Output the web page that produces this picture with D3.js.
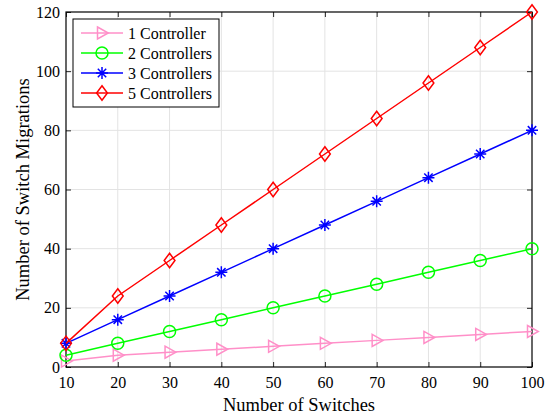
<!DOCTYPE html>
<html><head><meta charset="utf-8">
<script src="https://cdn.jsdelivr.net/npm/d3@7"></script>
<style>body{margin:0;background:#fff}svg{display:block}</style>
</head><body>
<script>
const switches = [10,20,30,40,50,60,70,80,90,100];
const c1 = [2,4,5,6,7,8,9,10,11,12];
const c2 = [4,8,12,16,20,24,28,32,36,40];
const c3 = [8,16,24,32,40,48,56,64,72,80];
const c5 = [8,24,36,48,60,72,84,96,108,120];
const xTicks = [10,20,30,40,50,60,70,80,90,100];
const yTicks = [0,20,40,60,80,100,120];
const seriesNames = ["1 Controller","2 Controllers","3 Controllers","5 Controllers"];
const seriesColors = ["#ff8fc8","#00ff00","#0000ff","#ff0000"];
const seriesMarkers = ["tri","circle","star","diamond"];
const seriesData = [c1,c2,c3,c5];

const FONT='"Liberation Serif","Times New Roman",serif';
const W=557,H=419, L=66, R=532, T=12, B=367;
const svg=d3.select("body").append("svg").attr("width",W).attr("height",H);
const x=d3.scaleLinear().domain([10,100]).range([L,R]);
const y=d3.scaleLinear().domain([0,120]).range([B,T]);

// grid
svg.append("g").selectAll("line").data(xTicks.slice(1,-1)).join("line")
 .attr("x1",d=>x(d)).attr("x2",d=>x(d)).attr("y1",T).attr("y2",B).attr("stroke","#e3e3e3").attr("stroke-width",1);
svg.append("g").selectAll("line").data(yTicks.slice(1,-1)).join("line")
 .attr("y1",d=>y(d)).attr("y2",d=>y(d)).attr("x1",L).attr("x2",R).attr("stroke","#e3e3e3").attr("stroke-width",1);

// axes
const tk=5;
const ax=svg.append("g").attr("transform",`translate(0,${B})`).call(d3.axisBottom(x).tickValues(xTicks).tickSizeInner(-tk).tickSizeOuter(0).tickPadding(10));
const axT=svg.append("g").attr("transform",`translate(0,${T})`).call(d3.axisTop(x).tickValues(xTicks).tickSizeInner(-tk).tickSizeOuter(0).tickFormat(""));
const ay=svg.append("g").attr("transform",`translate(${L},0)`).call(d3.axisLeft(y).tickValues(yTicks).tickSizeInner(-tk).tickSizeOuter(0).tickPadding(6));
const ayR=svg.append("g").attr("transform",`translate(${R},0)`).call(d3.axisRight(y).tickValues(yTicks).tickSizeInner(-tk).tickSizeOuter(0).tickFormat(""));
[ax,axT,ay,ayR].forEach(g=>{g.attr("font-family",FONT).attr("font-size",16);g.select(".domain").remove();g.selectAll("line").attr("stroke","#262626");g.selectAll("text").attr("font-family",FONT).attr("font-size",16).attr("fill","#000");});
svg.append("rect").attr("x",L).attr("y",T).attr("width",R-L).attr("height",B-T).attr("fill","none").attr("stroke","#000").attr("stroke-width",1.2);

function marker(g,type,cx,cy,color){
  const s=6;
  if(type==="tri") g.append("path").attr("d",`M${cx-s*0.75},${cy-s}L${cx+s*1.05},${cy}L${cx-s*0.75},${cy+s}Z`).attr("fill","none").attr("stroke",color).attr("stroke-width",1.5);
  else if(type==="circle") g.append("circle").attr("cx",cx).attr("cy",cy).attr("r",s).attr("fill","none").attr("stroke",color).attr("stroke-width",1.5);
  else if(type==="diamond") g.append("path").attr("d",`M${cx},${cy-s*1.2}L${cx+s*0.9},${cy}L${cx},${cy+s*1.2}L${cx-s*0.9},${cy}Z`).attr("fill","none").attr("stroke",color).attr("stroke-width",1.5);
  else if(type==="star"){
    const p=`M${cx-s},${cy}L${cx+s},${cy}M${cx},${cy-s}L${cx},${cy+s}M${cx-s*0.7},${cy-s*0.7}L${cx+s*0.7},${cy+s*0.7}M${cx-s*0.7},${cy+s*0.7}L${cx+s*0.7},${cy-s*0.7}`;
    g.append("path").attr("d",p).attr("stroke",color).attr("stroke-width",1.5).attr("fill","none");
  }
}
const line=d3.line().x((d,i)=>x(switches[i])).y(d=>y(d));
seriesData.forEach((data,k)=>{
  const g=svg.append("g");
  g.append("path").attr("d",line(data)).attr("fill","none").attr("stroke",seriesColors[k]).attr("stroke-width",1.5);
  data.forEach((v,i)=>marker(g,seriesMarkers[k],x(switches[i]),y(v),seriesColors[k]));
});

// legend
const lg=svg.append("g");
lg.append("rect").attr("x",73).attr("y",19).attr("width",146).attr("height",88).attr("fill","#fff").attr("stroke","#000").attr("stroke-width",1);
seriesNames.forEach((n,k)=>{
  const yy=33+k*20;
  lg.append("line").attr("x1",81).attr("x2",123).attr("y1",yy).attr("y2",yy).attr("stroke",seriesColors[k]).attr("stroke-width",1.5);
  marker(lg,seriesMarkers[k],102,yy,seriesColors[k]);
  lg.append("text").attr("x",128).attr("y",yy+5.5).attr("font-family",FONT).attr("font-size",16).attr("fill","#000").text(n);
});

svg.append("text").attr("x",(L+R)/2).attr("y",411).attr("text-anchor","middle").attr("font-family",FONT).attr("font-size",18.5).attr("fill","#000").text("Number of Switches");
svg.append("text").attr("transform",`translate(29,${(T+B)/2}) rotate(-90)`).attr("text-anchor","middle").attr("font-family",FONT).attr("font-size",18.5).attr("fill","#000").text("Number of Switch Migrations");
</script>
</body></html>
